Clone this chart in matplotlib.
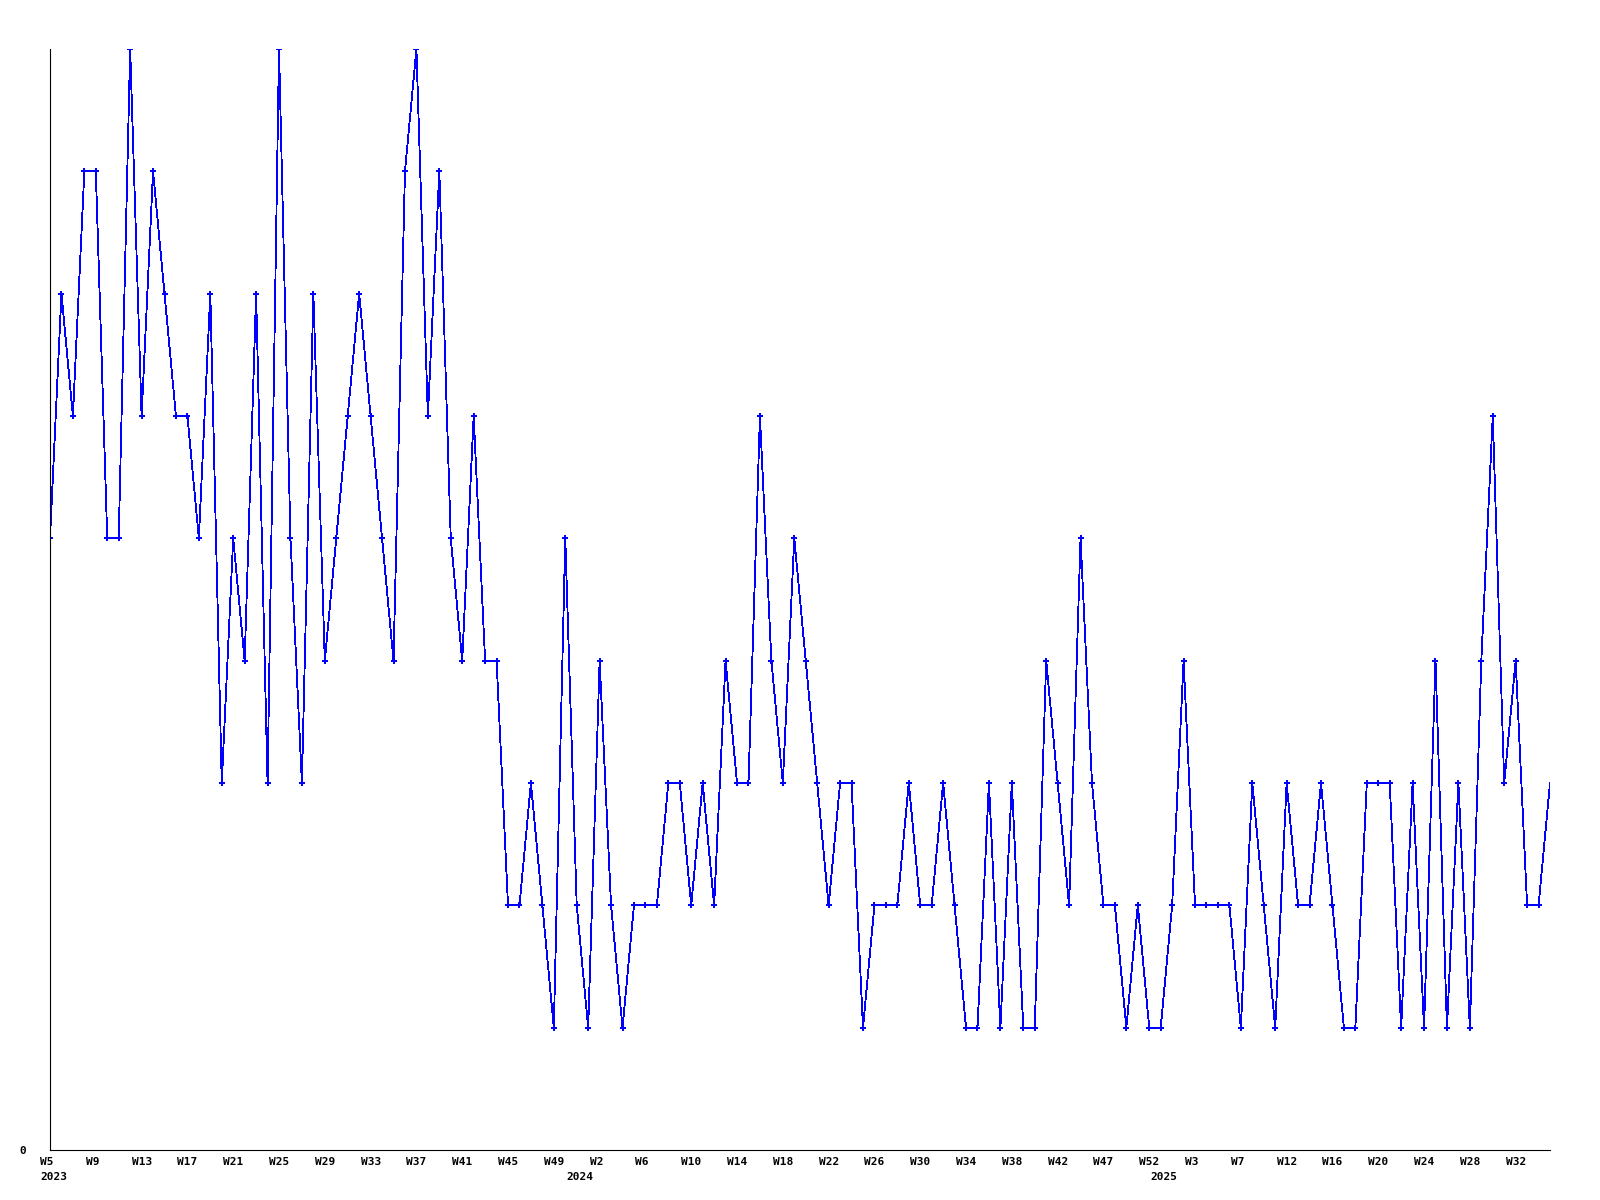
#!/usr/bin/env python3
"""Weekly count line chart, 2023 W5 .. 2025 W35."""

import matplotlib
matplotlib.use("Agg")
import matplotlib.pyplot as plt
from matplotlib.transforms import ScaledTranslation

# weekly values, one per week starting 2023 W5
VALUES = [
    5, 7, 6, 8, 8, 5, 5, 9, 6, 8, 7, 6, 6, 5, 7, 3, 5, 4, 7, 3,
    9, 5, 3, 7, 4, 5, 6, 7, 6, 5, 4, 8, 9, 6, 8, 5, 4, 6, 4, 4,
    2, 2, 3, 2, 1, 5, 2, 1, 4, 2, 1, 2, 2, 2, 3, 3, 2, 3, 2, 4,
    3, 3, 6, 4, 3, 5, 4, 3, 2, 3, 3, 1, 2, 2, 2, 3, 2, 2, 3, 2,
    1, 1, 3, 1, 3, 1, 1, 4, 3, 2, 5, 3, 2, 2, 1, 2, 1, 1, 2, 4,
    2, 2, 2, 2, 1, 3, 2, 1, 3, 2, 2, 3, 2, 1, 1, 3, 3, 3, 1, 3,
    1, 4, 1, 3, 1, 4, 6, 3, 4, 2, 2, 3,
]

WEEK_LABELS = [
    "W5", "W9", "W13", "W17", "W21", "W25", "W29", "W33", "W37", "W41",
    "W45", "W49", "W2", "W6", "W10", "W14", "W18", "W22", "W26", "W30",
    "W34", "W38", "W42", "W47", "W52", "W3", "W7", "W12", "W16", "W20",
    "W24", "W28", "W32",
]
YEAR_LABELS = ["2023", "2024", "2025"]
YEAR_AT = [0, 46, 97]   # week index where the year caption sits

LINE_COLOR = "#0000FF"
FONT = {"family": "DejaVu Sans Mono", "weight": "bold", "size": 8}

fig = plt.figure(figsize=(16, 12), dpi=100)
ax = fig.add_axes([50 / 1600, 50 / 1200, 1500 / 1600, 1101 / 1200])

x = list(range(len(VALUES)))
ax.plot(x, VALUES, color=LINE_COLOR, lw=0.6, antialiased=False)
ax.plot(x[:-1], VALUES[:-1], ls="none", marker="P", ms=5, mew=0,
        mfc=LINE_COLOR)

ax.set_xlim(0, len(VALUES) - 1)
ax.set_ylim(0, 9)

for side in ("top", "right"):
    ax.spines[side].set_visible(False)
for side in ("left", "bottom"):
    ax.spines[side].set_linewidth(0.8)
    ax.spines[side].set_color("black")

# ticks: labels only, no marks
ax.set_yticks([0])
ax.set_yticklabels(["0"], fontdict=FONT)
ax.tick_params(axis="y", length=0, pad=17)

ax.set_xticks(range(0, 4 * len(WEEK_LABELS), 4))
ax.set_xticklabels(WEEK_LABELS, fontdict=FONT)
ax.tick_params(axis="x", length=0, pad=5)
shift = ScaledTranslation(-10 / 100, 0, fig.dpi_scale_trans)
for lab in ax.get_xticklabels():
    lab.set_horizontalalignment("left")
    lab.set_transform(lab.get_transform() + shift)

for yr, pos in zip(YEAR_LABELS, YEAR_AT):
    ax.annotate(yr, xy=(pos, 0), xycoords=("data", "axes fraction"),
                xytext=(-10, -27), textcoords="offset pixels",
                ha="left", va="center", **FONT)

plt.savefig("out.png", dpi=100)
